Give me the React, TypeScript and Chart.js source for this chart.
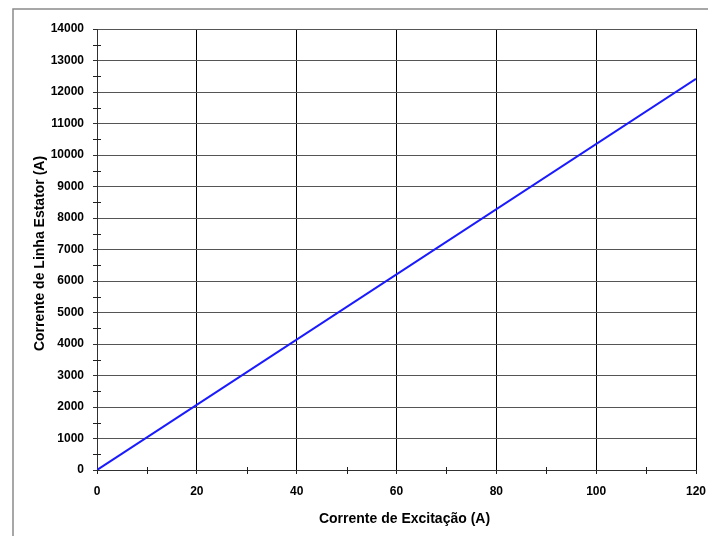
import React, { useEffect, useRef } from "react";
import { Chart, registerables } from "chart.js";

Chart.register(...registerables);

// Data
const excitationCurrent = [0, 120]; // A
const statorLineCurrent = [0, 12420]; // A

const xMin = 0;
const xMax = 120;
const xMajorStep = 20;
const xMinorStep = 10;
const yMin = 0;
const yMax = 14000;
const yMajorStep = 1000;
const yMinorStep = 500;

const xTitle = "Corrente de Excitação (A)";
const yTitle = "Corrente de Linha Estator (A)";

const FONT = "'Liberation Sans', Arial, sans-serif";

const framePlugin = {
  id: "frame",
  beforeDraw(chart: any) {
    const { ctx, width, height } = chart;
    ctx.save();
    ctx.strokeStyle = "#8a8a8a";
    ctx.lineWidth = 1.5;
    ctx.beginPath();
    ctx.moveTo(5, height);
    ctx.lineTo(5, 1);
    ctx.lineTo(width, 1);
    ctx.stroke();
    ctx.restore();
  },
  afterDraw(chart: any) {
    const { ctx, chartArea } = chart;
    const xs = chart.scales.x;
    const ys = chart.scales.y;
    ctx.save();
    ctx.strokeStyle = "#202020";
    ctx.lineWidth = 1;
    // minor x ticks crossing the axis
    for (let v = xMin + xMinorStep; v < xMax; v += xMinorStep) {
      if (v % xMajorStep === 0) continue;
      const px = Math.round(xs.getPixelForValue(v)) + 0.5;
      ctx.beginPath();
      ctx.moveTo(px, chartArea.bottom - 3);
      ctx.lineTo(px, chartArea.bottom + 4);
      ctx.stroke();
    }
    // minor y ticks crossing the axis
    for (let v = yMin + yMinorStep; v < yMax; v += yMinorStep) {
      if (v % yMajorStep === 0) continue;
      const py = Math.round(ys.getPixelForValue(v)) + 0.5;
      ctx.beginPath();
      ctx.moveTo(chartArea.left - 4, py);
      ctx.lineTo(chartArea.left + 4, py);
      ctx.stroke();
    }
    // axis titles
    ctx.fillStyle = "#000";
    ctx.font = `bold 14px ${FONT}`;
    ctx.textAlign = "center";
    ctx.textBaseline = "middle";
    ctx.fillText(xTitle, (chartArea.left + chartArea.right) / 2 + 8, 511);
    ctx.translate(32, (chartArea.top + chartArea.bottom) / 2 + 4);
    ctx.rotate(-Math.PI / 2);
    ctx.fillText(yTitle, 0, 0);
    ctx.restore();
  },
};

export default function App() {
  const ref = useRef<HTMLCanvasElement>(null);

  useEffect(() => {
    if (!ref.current) return;
    const points = excitationCurrent.map((x, i) => ({ x, y: statorLineCurrent[i] }));
    const chart = new Chart(ref.current, {
      type: "scatter",
      data: {
        datasets: [
          {
            data: points,
            showLine: true,
            borderColor: "#1a1aff",
            backgroundColor: "#1a1aff",
            borderWidth: 2,
            pointRadius: 0,
          },
        ],
      },
      options: {
        animation: false,
        responsive: false,
        maintainAspectRatio: false,
        layout: { padding: { top: 21, right: 12, left: 0, bottom: 0 } },
        plugins: {
          legend: { display: false },
          tooltip: { enabled: false },
          title: { display: false },
        },
        scales: {
          x: {
            type: "linear",
            min: xMin,
            max: xMax,
            afterFit(scale: any) {
              scale.height = 66;
              scale.paddingLeft = 0;
              scale.paddingRight = 0;
            },
            ticks: {
              stepSize: xMinorStep,
              autoSkip: false,
              maxRotation: 0,
              padding: 10,
              color: "#000",
              font: { family: FONT, size: 12, weight: "bold" },
              callback: (v: any) => (Number(v) % xMajorStep === 0 ? String(v) : ""),
            },
            grid: {
              color: (c: any) => (c.tick && c.tick.value % xMajorStep === 0 ? "#000" : "rgba(0,0,0,0)"),
              tickColor: (c: any) => (c.tick && c.tick.value % xMajorStep === 0 ? "#202020" : "rgba(0,0,0,0)"),
              tickLength: 4,
              lineWidth: 1,
            },
            border: { color: "#303030", width: 1 },
          },
          y: {
            type: "linear",
            min: yMin,
            max: yMax,
            afterFit(scale: any) {
              scale.width = 89;
              scale.paddingTop = 0;
              scale.paddingBottom = 0;
            },
            ticks: {
              stepSize: yMinorStep,
              autoSkip: false,
              padding: 9,
              color: "#000",
              font: { family: FONT, size: 12, weight: "bold" },
              callback: (v: any) => (Number(v) % yMajorStep === 0 ? String(v) : ""),
            },
            grid: {
              color: (c: any) => (c.tick && c.tick.value % yMajorStep === 0 ? "#555555" : "rgba(0,0,0,0)"),
              tickColor: (c: any) => (c.tick && c.tick.value % yMajorStep === 0 ? "#303030" : "rgba(0,0,0,0)"),
              tickLength: 4,
              lineWidth: 1,
            },
            border: { color: "#303030", width: 1 },
          },
        },
      },
      plugins: [framePlugin],
    });
    return () => chart.destroy();
  }, []);

  return (
    <div style={{ position: "fixed", left: 8, top: 8, width: 700, height: 528, overflow: "hidden" }}>
      <canvas ref={ref} width={700} height={528} style={{ display: "block", width: 700, height: 528 }} />
    </div>
  );
}
